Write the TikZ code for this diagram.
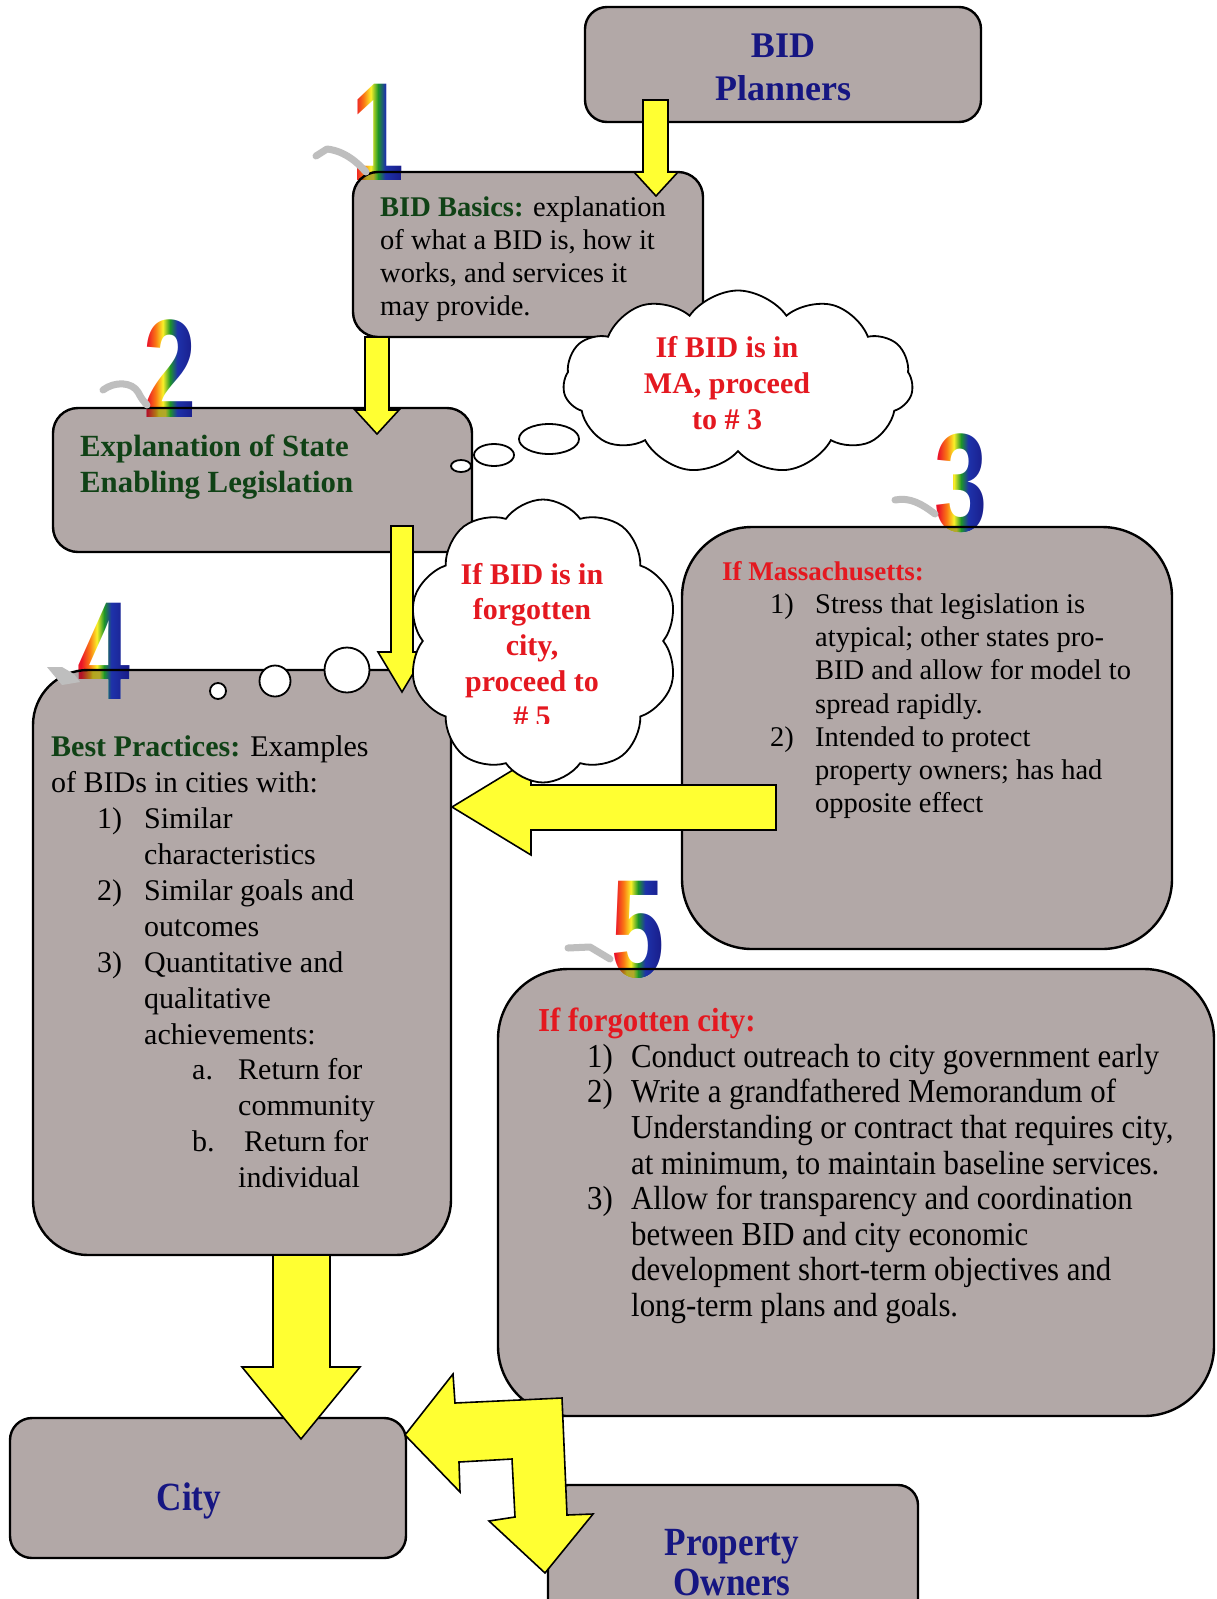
\documentclass[tikz,border=0pt]{standalone}
\usepackage{fontspec}
\setmainfont{Liberation Serif}
\newfontfamily\narrowserif[FakeStretch=0.92]{Liberation Serif}
\newfontfamily\condserif[FakeStretch=0.88]{Liberation Serif}
\newfontfamily\digitfont[FakeStretch=0.68]{Liberation Sans}
\usetikzlibrary{shapes.symbols}
\definecolor{boxfill}{RGB}{178,168,167}
\definecolor{navytext}{RGB}{22,22,130}
\definecolor{dkgreen}{RGB}{16,66,22}
\definecolor{headred}{RGB}{228,24,32}
\definecolor{arrowyellow}{RGB}{255,255,50}
\definecolor{tailgray}{RGB}{190,190,190}
\definecolor{rbred}{RGB}{235,20,40}
\definecolor{rborange}{RGB}{250,120,20}
\definecolor{rbyellow}{RGB}{250,240,40}
\definecolor{rbgreen}{RGB}{30,150,40}
\definecolor{rbblue}{RGB}{30,50,170}
\definecolor{rbdblue}{RGB}{25,30,140}
\pgfdeclarehorizontalshading{rainbow}{100bp}{color(0bp)=(rbred); color(31bp)=(rbred); color(38bp)=(rborange); color(44bp)=(rbyellow); color(50bp)=(rbgreen); color(56bp)=(rbblue); color(69bp)=(rbdblue); color(100bp)=(rbdblue)}
\newcommand\digfont{\digitfont\bfseries\fontsize{140}{140}\selectfont}
\newcommand\rainbowdigit[3]{%
  \node[inner sep=0pt,text=black,font=\digfont] (dig#1) at (#2,#3) {#1};
  \shade[shading=rainbow,blend mode=screen] (#2-30,#3-58) rectangle (#2+30,#3+58);
}
\begin{document}
\begin{tikzpicture}[x=1pt,y=-1pt,
  box/.style={draw=black,line width=2.4pt,fill=boxfill,rounded corners=#1,inner sep=0pt,blend mode=darken},
  arr/.style={fill=arrowyellow,draw=black,line width=1.6pt,line join=miter},
  txt/.style={inner sep=0pt,align=left,anchor=west},
  tail/.style={draw=tailgray,line width=7pt,line cap=round,line join=round},
  bubble/.style={draw=black,fill=white,line width=1.8pt},
  cloudbox/.style={cloud,cloud ignores aspect,draw=black,fill=white,line width=1.8pt,inner sep=0pt},
  cloudtxt/.style={inner sep=0pt,align=center,text=headred,font=\bfseries\fontsize{30}{35.6}\selectfont}]
\useasboundingbox (0,0) rectangle (1217,1599);
\fill[white] (0,0) rectangle (1217,1599);
\clip (0,0) rectangle (1217,1599);

% rainbow digits (drawn on white, boxes darken over them)
\rainbowdigit{1}{378}{132}
\rainbowdigit{2}{170}{369}
\rainbowdigit{3}{961}{483}
\rainbowdigit{4}{104}{651}
\rainbowdigit{5}{638}{930}

% boxes
\node[box=22,minimum width=396,minimum height=115] (bp) at (783,64.5) {};
\node[box=25,minimum width=350,minimum height=165] (b1) at (528,254.5) {};
\node[box=25,minimum width=419,minimum height=144] (b2) at (262.5,480) {};
\node[box=70,minimum width=490,minimum height=422] (b3) at (927,738) {};
\node[box=55,minimum width=418,minimum height=585] (b4) at (242,962.5) {};
\node[box=70,minimum width=716,minimum height=447] (b5) at (856,1192.5) {};
\node[box=22,minimum width=396,minimum height=140] (city) at (208,1488) {};
\node[box=20,minimum width=370,minimum height=155] (po) at (733,1562.5) {};

% tails
\draw[tail] (316,156) -- (327,149) .. controls (345,151) and (358,163) .. (366,172);
\draw[tail] (103,390) .. controls (115,381) and (132,382) .. (138,392) .. controls (141,398) and (144,402) .. (147,405);
\draw[tail] (895,500) .. controls (910,497) and (922,504) .. (935,514);
\fill[tailgray] (47,667) -- (62,667) -- (74,674) -- (80,682) -- (62,685) -- cycle;
\draw[tail] (568,948) -- (590,947) -- (610,959);

% texts
\node[inner sep=0pt,align=center,text=navytext,font=\bfseries\fontsize{36}{43}\selectfont] (tbp) at (783,67) {BID\\Planners};
\node[txt,font=\fontsize{28.5}{33.2}\selectfont] (t1) at (380,259) {\textcolor{dkgreen}{\bfseries BID Basics:} explanation\\of what a BID is, how it\\works, and services it\\may provide.};
\node[txt,text=dkgreen,font=\bfseries\fontsize{30.8}{36}\selectfont] (t2) at (80,467) {Explanation of State\\Enabling Legislation};
\node[txt,font=\fontsize{28.5}{33.14}\selectfont] (t3) at (722,690) {{\fontsize{27}{33.14}\selectfont\bfseries\textcolor{headred}{If Massachusetts:}}\\
\hspace*{48pt}\makebox[45pt][l]{1)}Stress that legislation is\\
\hspace*{93pt}atypical; other states pro-\\
\hspace*{93pt}BID and allow for model to\\
\hspace*{93pt}spread rapidly.\\
\hspace*{48pt}\makebox[45pt][l]{2)}Intended to protect\\
\hspace*{93pt}property owners; has had\\
\hspace*{93pt}opposite effect};
\node[txt,font=\fontsize{30}{35.9}\selectfont] (t4) at (51,962) {\textcolor{dkgreen}{\bfseries Best Practices:} Examples\\
of BIDs in cities with:\\
\hspace*{46pt}\makebox[47pt][l]{1)}Similar\\
\hspace*{93pt}characteristics\\
\hspace*{46pt}\makebox[47pt][l]{2)}Similar goals and\\
\hspace*{93pt}outcomes\\
\hspace*{46pt}\makebox[47pt][l]{3)}Quantitative and\\
\hspace*{93pt}qualitative\\
\hspace*{93pt}achievements:\\
\hspace*{141pt}\makebox[46pt][l]{a.}Return for\\
\hspace*{187pt}community\\
\hspace*{141pt}\makebox[52pt][l]{b.}Return for\\
\hspace*{187pt}individual};
\node[txt,font=\narrowserif\fontsize{33.5}{35.6}\selectfont] (t5) at (538,1166) {{\bfseries\textcolor{headred}{If forgotten city:}}\\
\hspace*{49pt}\makebox[44pt][l]{1)}Conduct outreach to city government early\\
\hspace*{49pt}\makebox[44pt][l]{2)}Write a grandfathered Memorandum of\\
\hspace*{93pt}Understanding or contract that requires city,\\
\hspace*{93pt}at minimum, to maintain baseline services.\\
\hspace*{49pt}\makebox[44pt][l]{3)}Allow for transparency and coordination\\
\hspace*{93pt}between BID and city economic\\
\hspace*{93pt}development short-term objectives and\\
\hspace*{93pt}long-term plans and goals.};
\node[inner sep=0pt,anchor=base,text=navytext,font=\condserif\bfseries\fontsize{40}{40}\selectfont] (tcity) at (189,1510) {City};
\node[inner sep=0pt,align=center,text=navytext,font=\condserif\bfseries\fontsize{40}{40}\selectfont] (tpo) at (732,1563) {Property\\Owners};

% block arrows
\draw[arr] (643,100) -- (668,100) -- (668,172) -- (678,172) -- (656,196) -- (634,172) -- (643,172) -- cycle;
\draw[arr] (365,337) -- (389,337) -- (389,410) -- (399,410) -- (377,434) -- (355,410) -- (365,410) -- cycle;
\draw[arr] (391,526) -- (413,526) -- (413,652) -- (426,652) -- (402,692) -- (378,652) -- (391,652) -- cycle;
\draw[arr] (776,785) -- (531,785) -- (531,759) -- (452,807) -- (531,855) -- (531,830) -- (776,830) -- cycle;
\draw[arr] (273,1255) -- (330,1255) -- (330,1367) -- (360,1367) -- (301,1439) -- (242,1367) -- (273,1367) -- cycle;
\draw[arr] (405,1435) -- (453,1374) -- (455,1403) -- (562,1398) -- (567,1515) -- (593,1514) -- (545,1573) -- (489,1521) -- (515,1517) -- (512,1459) -- (459,1462) -- (460,1492) -- cycle;

% clouds
\node[cloudbox,cloud puffs=11,cloud puff arc=110,minimum width=350,minimum height=183] (c1) at (738,382) {};
\draw[bubble] (549,439) ellipse (30 and 15);
\draw[bubble] (494,455) ellipse (20 and 11);
\draw[bubble] (461,466) ellipse (10 and 6);
\node[cloudtxt] (tc1) at (727,383) {If BID is in\\MA, proceed\\to \# 3};
\node[cloudbox,cloud puffs=10,cloud puff arc=110,minimum width=270,minimum height=283] (c2) at (543,641) {};
\draw[bubble] (347,670) circle (22.5);
\draw[bubble] (275,681) circle (15.5);
\draw[bubble] (218,691) circle (8);
\begin{scope}
\clip (420,540) rectangle (660,723);
\node[cloudtxt] (tc2) at (532,645) {If BID is in\\forgotten\\city,\\proceed to\\\# 5};
\end{scope}
\end{tikzpicture}
\end{document}
